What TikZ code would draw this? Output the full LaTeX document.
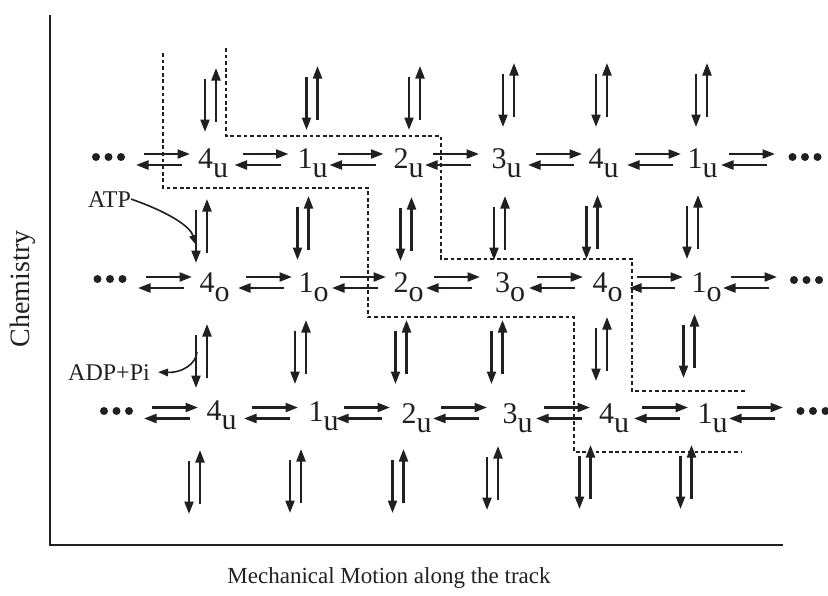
\documentclass[tikz,border=0pt]{standalone}
\usepackage{fontspec}
\setmainfont{Liberation Serif}
\usetikzlibrary{arrows.meta}
\definecolor{ink}{HTML}{231F20}
% subscript letter set at full size, lowered below the digit
\newcommand\lowsub[1]{\raisebox{-9pt}{#1}}
\begin{document}
\begin{tikzpicture}[x=1pt,y=-1pt,
  rxn/.style={draw=ink, line width=2.2pt, -{Triangle[length=12.5pt,width=9pt]}},
  thinarrow/.style={draw=ink, line width=1.6pt, -{Triangle[length=10pt,width=7.5pt]}},
  state/.style={font=\fontsize{30}{30}\selectfont, inner sep=0pt, anchor=base west, text=ink},
  smalltext/.style={font=\fontsize{24}{24}\selectfont, inner sep=0pt, text=ink},
  bound/.style={draw=ink, line width=2pt, dash pattern=on 3.8pt off 2.8pt},
  axis/.style={draw=ink, line width=2.2pt},
  hpair/.pic={
    \draw[rxn] (-19,-5.5) -- (27,-5.5);
    \draw[rxn] (19,5.5) -- (-27,5.5);
  },
  vpair/.pic={
    \draw[rxn] (-5.5,-21) -- (-5.5,32);
    \draw[rxn] (5.5,22) -- (5.5,-32);
  },
  dots/.pic={
    \fill[ink] (-12.5,0) circle (4pt) (0,0) circle (4pt) (12.5,0) circle (4pt);
  }]
\useasboundingbox (0,0) rectangle (828,595);

% axes
\coordinate (ytop) at (50,15);
\coordinate (orig) at (50,545);
\coordinate (xend) at (783,545);
\draw[axis] (ytop) -- (orig) -- (xend);
\node[rotate=90, font=\fontsize{28}{28}\selectfont, text=ink] (ylab) at (23,289) {Chemistry};
\node[font=\fontsize{23}{23}\selectfont, text=ink] (xlab) at (389,578) {Mechanical Motion along the track};

% states, row 1 (unbound)
\node[state] (r1c1) at (198,168) {4\lowsub{u}};
\node[state] (r1c2) at (297.5,168) {1\lowsub{u}};
\node[state] (r1c3) at (393.5,168) {2\lowsub{u}};
\node[state] (r1c4) at (491.5,168) {3\lowsub{u}};
\node[state] (r1c5) at (588.5,168) {4\lowsub{u}};
\node[state] (r1c6) at (687.5,168) {1\lowsub{u}};
% row 2 (occupied)
\node[state] (r2c1) at (199.5,292) {4\lowsub{o}};
\node[state] (r2c2) at (298.5,292) {1\lowsub{o}};
\node[state] (r2c3) at (393.5,292) {2\lowsub{o}};
\node[state] (r2c4) at (495,292) {3\lowsub{o}};
\node[state] (r2c5) at (592.5,292) {4\lowsub{o}};
\node[state] (r2c6) at (691.5,292) {1\lowsub{o}};
% row 3 (unbound)
\node[state] (r3c1) at (206.5,420) {4\lowsub{u}};
\node[state] (r3c2) at (308.5,421) {1\lowsub{u}};
\node[state] (r3c3) at (401.5,423) {2\lowsub{u}};
\node[state] (r3c4) at (502.5,423) {3\lowsub{u}};
\node[state] (r3c5) at (599,423) {4\lowsub{u}};
\node[state] (r3c6) at (697.5,423) {1\lowsub{u}};

% continuation dots
\pic at (108.5,157) {dots};
\pic at (805,157) {dots};
\pic at (110,279) {dots};
\pic at (806.5,280) {dots};
\pic at (116.5,411) {dots};
\pic at (813,411) {dots};

% horizontal (mechanical) equilibria
\foreach \cx in {163,261.5,356.5,452,555,654,748} \pic at (\cx,159.5) {hpair};
\foreach \cx in {165,265,359,453,556,656,750} \pic at (\cx,282.5) {hpair};
\foreach \cx in {171,271,363,460,563,661,756} \pic at (\cx,413) {hpair};

% vertical (chemical) equilibria
\foreach \vx/\vy in {210.5/100,312/98,414.5/98,508.5/95,601.5/95,701.5/95} \pic at (\vx,\vy) {vpair};
\foreach \vx/\vy in {201.5/231,303/228,406/229,499.5/228,592/227,692.5/227} \pic at (\vx,\vy) {vpair};
\foreach \vx/\vy in {201.5/356,300.5/352,401/352,497/352,601.5/349,689/346} \pic at (\vx,\vy) {vpair};
\foreach \vx/\vy in {194.5/482,295.5/481,398/481,492.5/478,585/477,686/477} \pic at (\vx,\vy) {vpair};

% pathway boundaries
\draw[bound] (163,53) -- (163,188) -- (368,188) -- (368,317) -- (574,317) -- (574,452) -- (742,452);
\draw[bound] (226,48) -- (226,136) -- (441,136) -- (441,259) -- (632,259) -- (632,391) -- (747,391);

% ATP binding and ADP+Pi release
\node[smalltext, anchor=base west] (atp) at (88,207) {ATP};
\node[smalltext, anchor=base east] (adp) at (150,380) {ADP+Pi};
\coordinate (atptip) at (196,245);
\coordinate (adpfrom) at (197,352);
\draw[thinarrow] (atp.east) .. controls (168,212) and (190,226) .. (atptip);
\draw[thinarrow] (adpfrom) .. controls (196,364) and (182,373) .. ([xshift=8pt]adp.east);
\end{tikzpicture}
\end{document}
